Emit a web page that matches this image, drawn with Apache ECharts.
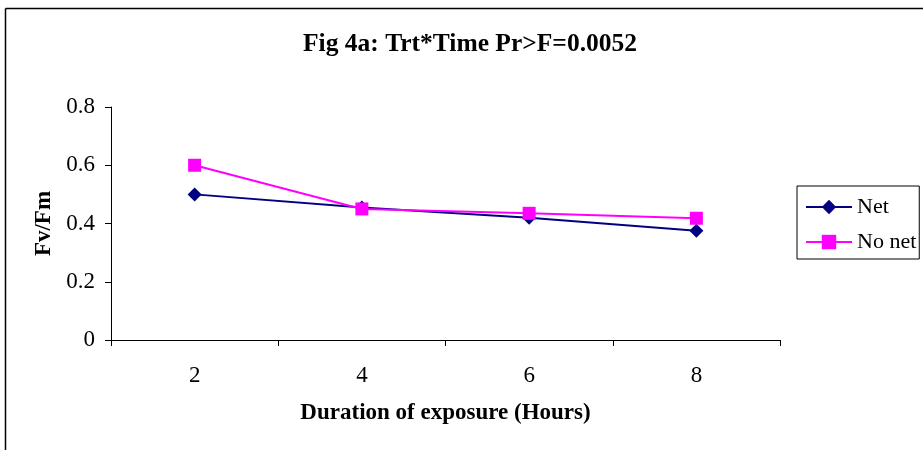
<!DOCTYPE html>
<html>
<head>
<meta charset="utf-8">
<script src="https://cdn.jsdelivr.net/npm/echarts@6/dist/echarts.min.js"></script>
<style>
  html, body { margin: 0; padding: 0; background: #fff; }
  #chart { width: 923px; height: 450px; }
</style>
</head>
<body>
<div id="chart"></div>
<script>
// Exposure duration (hours) and Fv/Fm readings per treatment
const hours = ['2', '4', '6', '8'];
const netValues = [0.50, 0.455, 0.42, 0.375];
const noNetValues = [0.60, 0.45, 0.435, 0.418];
const yTicks = [0, 0.2, 0.4, 0.6, 0.8];

const serif = '"Liberation Serif", "Times New Roman", serif';

const chart = echarts.init(document.getElementById('chart'), null, { renderer: 'canvas' });

chart.setOption({
  backgroundColor: '#ffffff',
  animation: false,
  title: {
    text: 'Fig 4a: Trt*Time Pr>F=0.0052',
    left: 465,
    textAlign: 'center',
    top: 26,
    textStyle: { fontFamily: serif, fontWeight: 'bold', fontSize: 25.5, color: '#000' }
  },
  graphic: [
    // outer frame (left and top edges)
    { type: 'line', shape: { x1: 5.5, y1: 8.5, x2: 923, y2: 8.5 }, style: { stroke: '#000', lineWidth: 1.5 } },
    { type: 'line', shape: { x1: 5.5, y1: 8.5, x2: 5.5, y2: 450 }, style: { stroke: '#000', lineWidth: 1.5 } }
  ],
  legend: {
    orient: 'vertical',
    left: 797,
    top: 186,
    itemWidth: 46,
    itemHeight: 18,
    itemGap: 13,
    padding: [10, 3, 6, 8],
    borderColor: '#000',
    borderWidth: 1,
    textStyle: { fontFamily: serif, fontSize: 22, color: '#000' },
    data: ['Net', 'No net']
  },
  grid: { left: 111, right: 143, top: 107, bottom: 110, containLabel: false },
  xAxis: {
    type: 'category',
    data: hours,
    boundaryGap: true,
    name: 'Duration of exposure (Hours)',
    nameLocation: 'middle',
    nameGap: 62,
    nameTextStyle: { fontFamily: serif, fontWeight: 'bold', fontSize: 23, color: '#000' },
    axisLine: { lineStyle: { color: '#000', width: 1 } },
    axisTick: { show: true, length: 6, inside: false, lineStyle: { color: '#000' } },
    axisLabel: { fontFamily: serif, fontSize: 23, color: '#000', margin: 24 },
    splitLine: { show: false }
  },
  yAxis: {
    type: 'value',
    min: yTicks[0],
    max: yTicks[yTicks.length - 1],
    interval: 0.2,
    name: 'Fv/Fm',
    nameLocation: 'middle',
    nameGap: 55,
    nameRotate: 90,
    nameTextStyle: { fontFamily: serif, fontWeight: 'bold', fontSize: 23, color: '#000' },
    axisLine: { show: true, lineStyle: { color: '#000', width: 1 } },
    axisTick: { show: true, length: 6, inside: false, lineStyle: { color: '#000' } },
    axisLabel: {
      fontFamily: serif, fontSize: 23, color: '#000', margin: 16,
      formatter: v => String(Math.round(v * 10) / 10)
    },
    splitLine: { show: false }
  },
  series: [
    {
      name: 'Net',
      type: 'line',
      data: netValues,
      symbol: 'diamond',
      symbolSize: 14,
      color: '#000080',
      lineStyle: { color: '#000080', width: 2 },
      itemStyle: { color: '#000080' },
      z: 3
    },
    {
      name: 'No net',
      type: 'line',
      data: noNetValues,
      symbol: 'rect',
      symbolSize: 13,
      color: '#FF00FF',
      lineStyle: { color: '#FF00FF', width: 2 },
      itemStyle: { color: '#FF00FF' },
      z: 4
    }
  ]
});
</script>
</body>
</html>
